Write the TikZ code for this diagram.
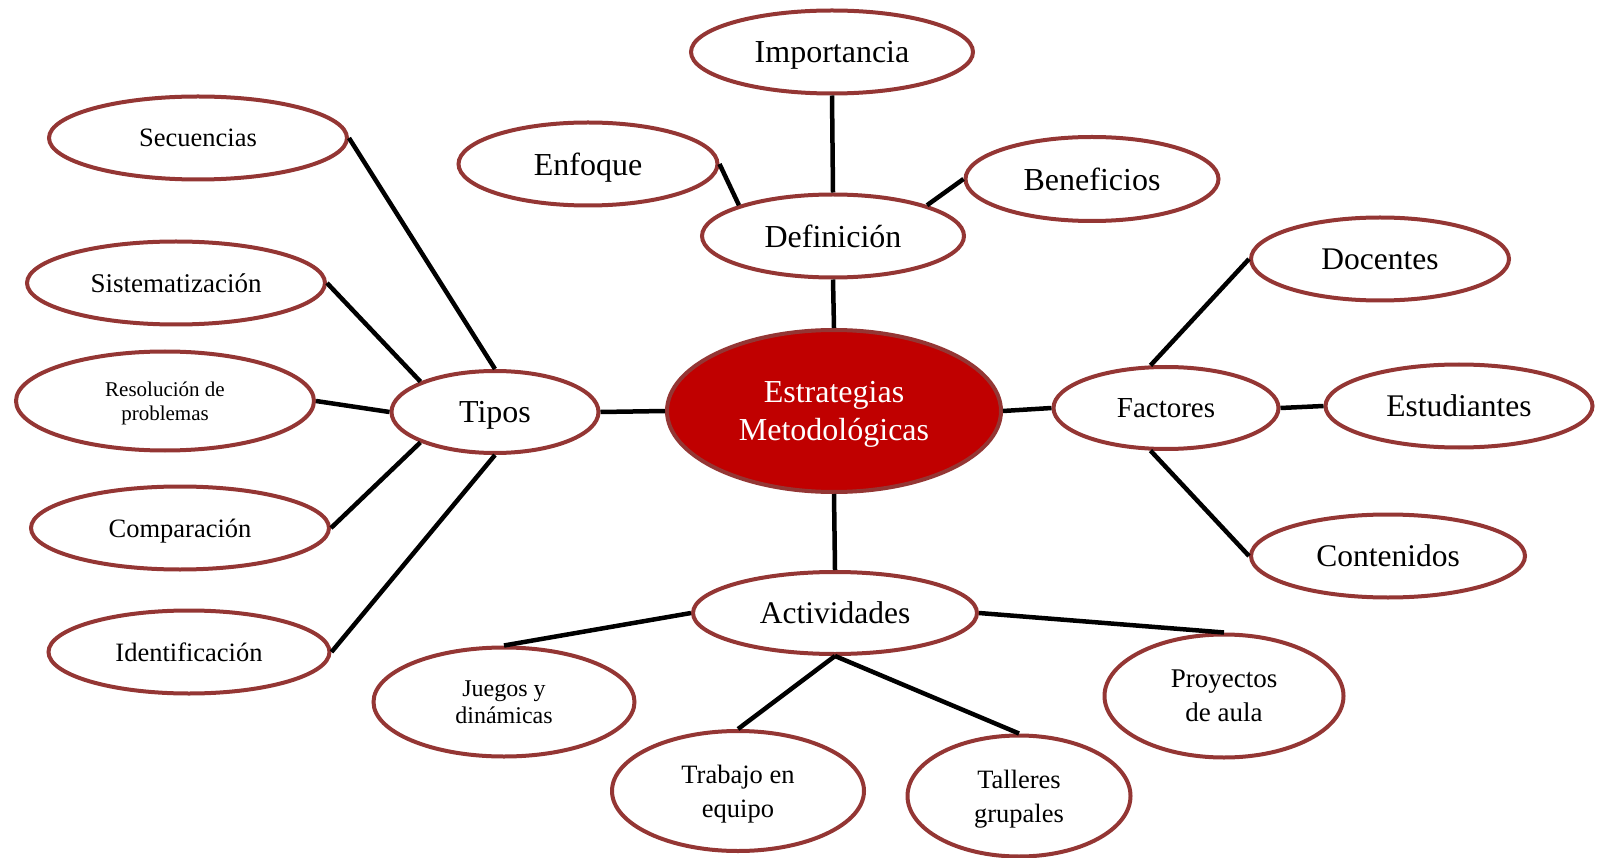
\documentclass[tikz,border=0pt]{standalone}
\usepackage{fontspec}
\setmainfont{Liberation Serif}
\usetikzlibrary{shapes.geometric}

\definecolor{borde}{HTML}{943634}
\definecolor{rojo}{HTML}{C00000}

\newcommand{\letra}[2]{\fontsize{#1}{#2}\selectfont}

\tikzset{
  burbuja/.style={ellipse, draw=borde, line width=4pt, fill=white,
    inner sep=0pt, align=center, text depth=0pt},
  medida/.style 2 args={minimum width=#1, minimum height=#2},
  enlace/.style={line width=4.5pt, black},
}

\begin{document}
\begin{tikzpicture}[x=1pt,y=-1pt]
  \useasboundingbox (0,0) rectangle (1598,858);

  % Nodo central
  \node[burbuja, fill=rojo, text=white, medida={334}{162}, font=\letra{32}{38}]
    (centro) at (834,411) {Estrategias\\Metodológicas};

  % Rama superior
  \node[burbuja, medida={262}{83}, font=\letra{32}{38}] (definicion) at (833,236) {Definición};
  \node[burbuja, medida={282}{83}, font=\letra{32}{38}] (importancia) at (832,52) {Importancia};
  \node[burbuja, medida={259}{83}, font=\letra{32}{38}] (enfoque) at (588,164) {Enfoque};
  \node[burbuja, medida={253}{84}, font=\letra{32}{38}] (beneficios) at (1092,179) {Beneficios};

  % Rama izquierda
  \node[burbuja, medida={207}{82}, font=\letra{32}{38}] (tipos) at (495,412) {Tipos};
  \node[burbuja, medida={298}{83}, font=\letra{26.5}{32}] (secuencias) at (198,138) {Secuencias};
  \node[burbuja, medida={298}{83}, font=\letra{27}{32}] (sistematizacion) at (176,283) {Sistematización};
  \node[burbuja, medida={298}{99}, font=\letra{21}{24.5}] (resolucion) at (165,401) {Resolución de\\problemas};
  \node[burbuja, medida={298}{83}, font=\letra{26.5}{32}] (comparacion) at (180,528) {Comparación};
  \node[burbuja, medida={281}{83}, font=\letra{26.5}{32}] (identificacion) at (189,652) {Identificación};

  % Rama derecha
  \node[burbuja, medida={225}{82}, font=\letra{29}{34}] (factores) at (1166,408) {Factores};
  \node[burbuja, medida={258}{83}, font=\letra{31.5}{38}] (docentes) at (1380,259) {Docentes};
  \node[burbuja, medida={267}{83}, font=\letra{31.5}{38}] (estudiantes) at (1459,406) {Estudiantes};
  \node[burbuja, medida={274}{83}, font=\letra{31.5}{38}] (contenidos) at (1388,556) {Contenidos};

  % Rama inferior
  \node[burbuja, medida={284}{82}, font=\letra{31.5}{38}] (actividades) at (835,613) {Actividades};
  \node[burbuja, medida={261}{109}, font=\letra{24}{27}] (juegos) at (504,702) {Juegos y\\dinámicas};
  \node[burbuja, medida={252}{120}, font=\letra{26.5}{34}] (trabajo) at (738,791) {Trabajo en\\equipo};
  \node[burbuja, medida={223}{121}, font=\letra{26.5}{34}] (talleres) at (1019,796) {Talleres\\grupales};
  \node[burbuja, medida={239}{123}, font=\letra{27}{34}] (proyectos) at (1224,696) {Proyectos\\de aula};

  % Conectores
  \draw[enlace] (importancia.south) -- (definicion.north);
  \draw[enlace] (enfoque.east) -- (definicion.north west);
  \draw[enlace] (beneficios.west) -- (definicion.north east);
  \draw[enlace] (definicion.south) -- (centro.north);

  \draw[enlace] (centro.west) -- (tipos.east);
  \draw[enlace] (secuencias.east) -- (tipos.north);
  \draw[enlace] (sistematizacion.east) -- (tipos.north west);
  \draw[enlace] (resolucion.east) -- (tipos.west);
  \draw[enlace] (comparacion.east) -- (tipos.south west);
  \draw[enlace] (identificacion.east) -- (tipos.south);

  \draw[enlace] (centro.east) -- (factores.west);
  \draw[enlace] (factores.110) -- (docentes.west);
  \draw[enlace] (factores.east) -- (estudiantes.west);
  \draw[enlace] (factores.250) -- (contenidos.west);

  \draw[enlace] (centro.south) -- (actividades.north);
  \draw[enlace] (actividades.west) -- (juegos.north);
  \draw[enlace] (actividades.east) -- (proyectos.north);
  \foreach \hoja in {trabajo, talleres}
    \draw[enlace] (actividades.south) -- (\hoja.north);
\end{tikzpicture}
\end{document}
